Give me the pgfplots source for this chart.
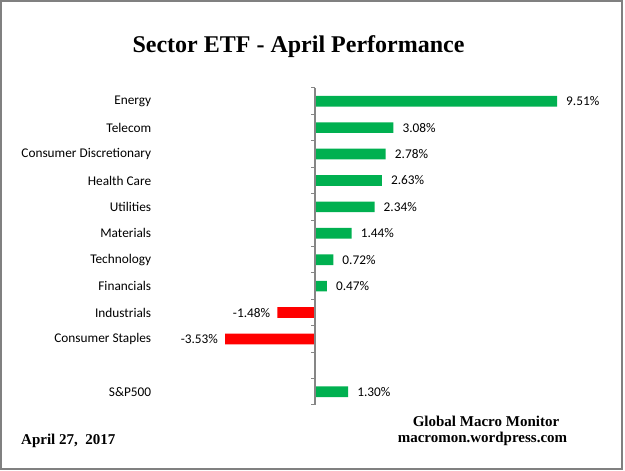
\documentclass[border=0pt]{standalone}
\usepackage{pgfplots}
\pgfplotsset{compat=1.18}
\usepackage{fontspec}
\setmainfont{Carlito}
\newfontfamily\timesfont{Liberation Serif}
\definecolor{barGreen}{RGB}{0,176,80}
\definecolor{barRed}{RGB}{255,0,0}
\definecolor{axisGray}{RGB}{134,134,134}
\definecolor{frameGray}{RGB}{128,128,128}

\begin{document}
\begin{tikzpicture}[x=1pt,y=1pt]
\path (0,0) rectangle (625,471);
\draw[frameGray, line width=1.5pt] (1,2) rectangle (622,470);
\node[font=\timesfont\bfseries\fontsize{24}{28}\selectfont, anchor=base] at (298.5,418) {Sector ETF - April Performance};
% bars
\begin{axis}[
  at={(187.72pt,66pt)}, anchor=south west,
  scale only axis, width=381.76pt, height=317pt,
  xbar, bar width=10.7pt, bar shift=0pt,
  xmin=-5, xmax=10,
  ymin=0.5, ymax=12.5, y dir=reverse,
  axis x line=none, axis y line*=left,
  y axis line style={draw=none},
  ytick={1,2,3,4,5,6,7,8,9,10,12},
  yticklabels={Energy,Telecom,Consumer Discretionary,Health Care,Utilities,Materials,Technology,Financials,Industrials,Consumer Staples,S\&P500},
  major tick length=0pt,
  yticklabel style={font=\fontsize{13.3}{16}\selectfont, xshift=-33pt},
  clip=false,
  point meta=x,
  nodes near coords={\pgfmathprintnumber[fixed,fixed zerofill,precision=2,assume math mode=true]{\pgfplotspointmeta}\%},
  every node near coord/.append style={font=\fontsize{13.3}{16}\selectfont, text=black},
]
\addplot[fill=barGreen, draw=none, every node near coord/.append style={inner xsep=9pt}]
  coordinates {(9.51,1) (3.08,2) (2.78,3) (2.63,4) (2.34,5) (1.44,6) (0.72,7) (0.47,8) (1.30,12)};
\addplot[fill=barRed, draw=none, every node near coord/.append style={inner xsep=7pt}]
  coordinates {(-1.48,9) (-3.53,10)};
\end{axis}
% category axis line at zero
\begin{axis}[
  at={(315pt,66pt)}, anchor=south west,
  scale only axis, width=254.5pt, height=317pt,
  xmin=0, xmax=10, ymin=0.5, ymax=12.5, y dir=reverse,
  axis x line=none, axis y line*=left,
  ytick=\empty,
  axis line style={axisGray, line width=1.2pt},
]
\end{axis}
% tick marks between the categories
\foreach \k in {0,...,12}
  \draw[axisGray, line width=1pt] (311,66+26.4167*\k) -- (315,66+26.4167*\k);
\node[anchor=base, font=\timesfont\bfseries\fontsize{15}{18}\selectfont] at (486,44) {Global Macro Monitor};
\node[anchor=base, font=\timesfont\bfseries\fontsize{15}{18}\selectfont] at (482.5,28) {macromon.wordpress.com};
\node[anchor=base west, inner sep=0pt, font=\timesfont\bfseries\fontsize{15}{18}\selectfont] at (21,26) {April 27,\ \ 2017};
\end{tikzpicture}
\end{document}
